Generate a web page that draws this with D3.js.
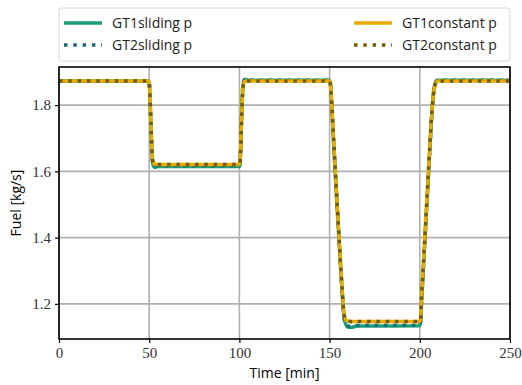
<!DOCTYPE html>
<html>
<head>
<script src="https://d3js.org/d3.v7.min.js"></script>
<style>
  body { margin: 0; background: #fff; }
  .tick text { font-family: "Liberation Serif", serif; }
</style>
</head>
<body>
<svg id="chart" width="522" height="385"></svg>
<script>
// time points [min]
const time = [0, 49.5, 50, 50.5, 51, 51.5, 52, 53, 55, 100, 100.5, 101, 101.5, 102, 103, 105,
  150, 150.5, 151, 152, 154, 156, 157, 158, 159, 160, 162, 165,
  200, 200.5, 201, 202, 204, 206, 207, 208, 209, 210, 250];

// fuel flow [kg/s]
const gt1Sliding = [1.873, 1.873, 1.866, 1.81, 1.73, 1.66, 1.622, 1.612, 1.615, 1.615, 1.64, 1.73, 1.81, 1.862, 1.878, 1.875,
  1.875, 1.862, 1.82, 1.71, 1.51, 1.32, 1.23, 1.16, 1.138, 1.13, 1.129, 1.133,
  1.134, 1.15, 1.21, 1.31, 1.51, 1.71, 1.80, 1.855, 1.871, 1.875, 1.875];
const gt2Sliding = [1.873, 1.873, 1.866, 1.81, 1.73, 1.66, 1.623, 1.614, 1.617, 1.617, 1.64, 1.73, 1.81, 1.862, 1.877, 1.875,
  1.875, 1.862, 1.82, 1.71, 1.51, 1.32, 1.23, 1.16, 1.14, 1.133, 1.132, 1.135,
  1.136, 1.15, 1.21, 1.31, 1.51, 1.71, 1.80, 1.855, 1.871, 1.875, 1.875];
const gt1Constant = [1.873, 1.873, 1.868, 1.82, 1.74, 1.67, 1.63, 1.622, 1.621, 1.621, 1.64, 1.72, 1.80, 1.855, 1.872, 1.873,
  1.873, 1.86, 1.82, 1.72, 1.52, 1.33, 1.24, 1.17, 1.152, 1.148, 1.147, 1.147,
  1.147, 1.16, 1.22, 1.32, 1.52, 1.72, 1.80, 1.85, 1.868, 1.873, 1.873];
const gt2Constant = gt1Constant.slice();

const xTicks = [0, 50, 100, 150, 200, 250];
const yTicks = [1.2, 1.4, 1.6, 1.8];

const series = [
  { name: "GT1sliding p", values: gt1Sliding, color: "#1b9e77", dash: null },
  { name: "GT2sliding p", values: gt2Sliding, color: "#1b6b78", dash: "3.5,5.8" },
  { name: "GT1constant p", values: gt1Constant, color: "#e6ab02", dash: null },
  { name: "GT2constant p", values: gt2Constant, color: "#735c00", dash: "3.5,5.8" }
];

const margin = { left: 59, right: 12, top: 67, bottom: 46 };
const width = 522, height = 385;
const svg = d3.select("#chart");

const x = d3.scaleLinear().domain([0, 250]).range([margin.left, width - margin.right]);
const y = d3.scaleLinear().domain([1.094, 1.915]).range([height - margin.bottom, margin.top]);

// grid
const grid = svg.append("g");
grid.selectAll(".gx").data(xTicks).enter().append("line")
  .attr("x1", d => x(d)).attr("x2", d => x(d))
  .attr("y1", y.range()[0]).attr("y2", y.range()[1])
  .attr("stroke", "#b0b0b0").attr("stroke-width", 1.6);
grid.selectAll(".gy").data(yTicks).enter().append("line")
  .attr("x1", x.range()[0]).attr("x2", x.range()[1])
  .attr("y1", d => y(d)).attr("y2", d => y(d))
  .attr("stroke", "#b0b0b0").attr("stroke-width", 1.6);

// lines
svg.append("clipPath").attr("id", "clip").append("rect")
  .attr("x", margin.left).attr("y", margin.top)
  .attr("width", width - margin.left - margin.right)
  .attr("height", height - margin.top - margin.bottom);

const line = d3.line().curve(d3.curveMonotoneX);
series.forEach(s => {
  svg.append("path")
    .attr("clip-path", "url(#clip)")
    .attr("d", line(time.map((t, i) => [x(t), y(s.values[i])])))
    .attr("fill", "none")
    .attr("stroke", s.color)
    .attr("stroke-width", 3.5)
    .attr("stroke-dasharray", s.dash);
});

// axes
const xAxis = svg.append("g")
  .attr("transform", `translate(0,${height - margin.bottom})`)
  .call(d3.axisBottom(x).tickValues(xTicks).tickSize(4).tickSizeOuter(0).tickPadding(4));
const yAxis = svg.append("g")
  .attr("transform", `translate(${margin.left},0)`)
  .call(d3.axisLeft(y).tickValues(yTicks).tickFormat(d3.format(".1f")).tickSize(4).tickSizeOuter(0).tickPadding(4));
[xAxis, yAxis].forEach(a => {
  a.select(".domain").remove();
  a.selectAll(".tick line").attr("stroke", "#000").attr("stroke-width", 1.2);
  a.selectAll(".tick text").attr("font-size", 15).attr("fill", "#333");
});

// frame
svg.append("rect")
  .attr("x", margin.left).attr("y", margin.top)
  .attr("width", width - margin.left - margin.right)
  .attr("height", height - margin.top - margin.bottom)
  .attr("fill", "none").attr("stroke", "#000").attr("stroke-width", 1.6);

// axis labels
svg.append("text")
  .attr("x", (x.range()[0] + x.range()[1]) / 2).attr("y", 378)
  .attr("text-anchor", "middle")
  .attr("font-family", "Open Sans, sans-serif").attr("font-size", 14)
  .text("Time [min]");
svg.append("text")
  .attr("transform", `translate(21,${(y.range()[0] + y.range()[1]) / 2}) rotate(-90)`)
  .attr("text-anchor", "middle")
  .attr("font-family", "Open Sans, sans-serif").attr("font-size", 14)
  .text("Fuel [kg/s]");

// legend
const legend = svg.append("g");
legend.append("rect")
  .attr("x", 59).attr("y", 8).attr("width", 451).attr("height", 53).attr("rx", 3)
  .attr("fill", "#fff").attr("fill-opacity", 0.8)
  .attr("stroke", "#d6d6d6").attr("stroke-width", 1);
const pos = [[64, 23], [64, 45], [354, 23], [354, 45]];
series.forEach((s, i) => {
  const [lx, ly] = pos[i];
  legend.append("line")
    .attr("x1", lx).attr("x2", lx + 38).attr("y1", ly).attr("y2", ly)
    .attr("stroke", s.color).attr("stroke-width", 3.5)
    .attr("stroke-dasharray", s.dash);
  legend.append("text")
    .attr("x", lx + 48).attr("y", ly + 5)
    .attr("font-family", "Open Sans, sans-serif").attr("font-size", 14)
    .attr("fill", "#222")
    .text(s.name);
});
</script>
</body>
</html>
